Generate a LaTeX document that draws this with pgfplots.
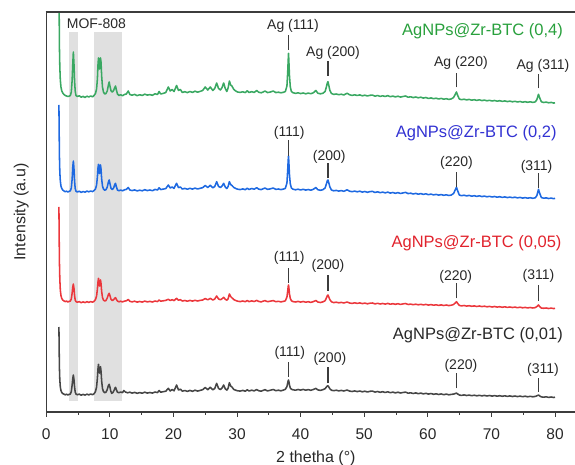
\documentclass[border=0pt]{standalone}
\usepackage{pgfplots}
\pgfplotsset{compat=1.18}
\usepackage{fontspec}
\setmainfont{Liberation Sans}

\definecolor{gline}{RGB}{58,168,98}
\definecolor{gtext}{RGB}{40,160,60}
\definecolor{bline}{RGB}{30,105,225}
\definecolor{btext}{RGB}{50,50,210}
\definecolor{rline}{RGB}{235,55,60}
\definecolor{rtext}{RGB}{225,35,45}
\definecolor{kline}{RGB}{70,70,70}
\definecolor{ktext}{RGB}{40,40,40}
\definecolor{band}{RGB}{224,224,224}
\definecolor{axgray}{RGB}{60,60,60}

\newcommand{\annfont}{\fontsize{14}{16}\selectfont}
\newcommand{\serfont}{\fontsize{16.5}{19}\selectfont}
\tikzset{
    ann/.style={draw=axgray, line width=1.1pt},
    lab/.style={inner sep=0pt, text=ktext, font=\annfont},
    ser/.style={anchor=east, inner sep=0pt, font=\serfont},
}

\begin{document}
\begin{tikzpicture}
\begin{axis}[
    at={(0,0)}, anchor=south west,
    scale only axis,
    width=528.8pt, height=400pt,
    xmin=0, xmax=83.14,
    ymin=0, ymax=400,
    axis x line=bottom, axis y line=left,
    axis line style={-, draw=axgray, line width=1.2pt},
    xtick={0,10,...,80},
    minor xtick={5,15,...,75},
    ytick=\empty,
    tick align=outside,
    major tick length=5pt, minor tick length=3pt,
    tick style={draw=axgray, line width=1pt},
    /pgf/number format/assume math mode=true,
    ticklabel style={font=\fontsize{15.5}{18}\selectfont, text=ktext},
    xticklabel style={yshift=-8pt},
    xlabel={2 thetha (°)},
    ylabel={Intensity (a.u)},
    label style={font=\fontsize{16}{19}\selectfont, text=ktext},
    xlabel style={at={(axis description cs:0.51,-0.115)}, anchor=center},
    ylabel style={at={(axis description cs:-0.047,0.5)}, anchor=center},
    every axis plot/.append style={no markers, line width=1.55pt, line join=round},
]
% shaded MOF-808 regions
\fill[band] (axis cs:3.6,11.3) rectangle (axis cs:4.98,380);
\fill[band] (axis cs:7.47,11.3) rectangle (axis cs:11.97,380);

% AgNPs@Zr-BTC (0,01)
\addplot[kline] coordinates {
(2.00,85) (2.04,62) (2.08,44) (2.14,32) (2.22,25) (2.32,21.5) (2.45,19.5) (2.6,18.5) (2.8,17.8) (3.0,17.2) (3.2,17.8) (3.4,17) (3.6,17.6) (3.8,18) (3.95,20.5) (4.08,27) (4.18,33.5) (4.27,37) (4.36,33) (4.46,25) (4.56,20) (4.68,18) (4.9,17.2) (5.2,17.9) (5.5,16.8) (5.8,17.6) (6.1,16.9) (6.4,17.8) (6.7,17.1) (7.0,18) (7.3,17.3) (7.55,18.4) (7.75,20.5) (7.92,25) (8.05,34) (8.14,43) (8.22,47.7) (8.3,42) (8.38,39) (8.46,41.5) (8.54,45.3) (8.62,41) (8.72,31) (8.85,23.5) (9.0,20.5) (9.2,19.3) (9.4,19.8) (9.6,22.5) (9.78,26.5) (9.9,27.7) (10.02,25) (10.15,21) (10.3,18.7) (10.5,19.5) (10.7,22) (10.82,24) (10.9,24.7) (11.02,22.5) (11.2,19.8) (11.45,19.3) (11.7,20) (12.0,19.3) (12.2,21.5) (12.45,20) (12.8,19.2) (13.15,19.8) (13.5,18.9) (13.9,19.6) (14.3,18.7) (14.7,19.4) (15.1,18.8) (15.5,19.8) (15.9,18.9) (16.3,19.5) (16.7,18.9) (17.1,20) (17.5,19.4) (17.75,21.5) (18.0,19.8) (18.4,20.3) (18.8,20.8) (19.2,23.7) (19.5,21) (19.8,22.5) (20.1,21.2) (20.5,27) (20.8,22) (21.1,22.8) (21.4,20.8) (21.8,21.5) (22.2,20.6) (22.6,21.6) (23.0,20.7) (23.4,21.8) (23.8,20.9) (24.2,21.6) (24.6,22.3) (25.0,24.5) (25.4,22.3) (25.8,24.8) (26.2,22.2) (26.5,23.5) (26.8,28.7) (27.1,23.5) (27.4,22.4) (27.65,24) (27.9,27) (28.15,23.2) (28.4,21.9) (28.6,23.8) (28.8,29.3) (29.0,26) (29.2,25) (29.5,22.5) (29.8,21.8) (30.1,21.2) (30.5,20.9) (30.9,21.6) (31.3,20.8) (31.6,22.2) (31.9,21) (32.3,21.8) (32.7,21.1) (33.1,22.4) (33.4,21.3) (33.8,20.8) (34.1,21.6) (34.4,22.3) (34.8,21.1) (35.2,21.7) (35.7,22.5) (36.1,21.3) (36.5,21.8) (36.9,21.2) (37.3,21.9) (37.6,22.7) (37.85,25.5) (37.97,29) (38.05,31.3) (38.1,32) (38.16,30.3) (38.25,27) (38.38,24) (38.55,22.8) (38.8,22.2) (39.2,21.8) (39.6,22.5) (40.0,21.9) (40.4,22.6) (40.8,21.8) (41.2,22.4) (41.6,21.7) (42.0,22.5) (42.4,23.6) (42.7,22.1) (43.1,21.6) (43.5,22.3) (43.85,23.3) (44.05,25) (44.2,26) (44.3,26.2) (44.42,25.2) (44.6,23.2) (44.85,21.8) (45.2,21.3) (45.6,21.8) (46.0,21.1) (46.4,21.6) (46.8,21) (47.3,22) (47.7,20.9) (48.1,20.5) (48.5,21.1) (48.9,20.4) (49.3,21) (49.7,20.2) (50.1,20.8) (50.5,20) (50.9,20.7) (51.3,20.9) (51.7,19.9) (52.1,20.5) (52.5,19.7) (52.9,20.3) (53.3,19.5) (53.7,20.2) (54.1,19.3) (54.5,19.9) (54.9,19.1) (55.3,19.8) (55.7,19) (56.1,19.5) (56.5,19.9) (56.9,18.8) (57.3,19.2) (57.7,18.5) (58.1,19.1) (58.5,18.3) (58.9,18.9) (59.3,18.1) (59.7,18.7) (60.1,17.9) (60.5,18.5) (60.9,17.7) (61.3,18.2) (61.7,17.5) (62.1,18.1) (62.5,17.3) (62.9,17.9) (63.3,17.2) (63.7,17.6) (64.05,17.9) (64.3,18.4) (64.5,18.9) (64.7,18) (64.95,17) (65.3,16.6) (65.7,17.1) (66.1,16.5) (66.5,16.9) (66.9,16.3) (67.3,16.8) (67.7,16.2) (68.1,16.7) (68.5,16.1) (68.9,16.6) (69.3,16) (69.7,16.5) (70.1,15.9) (70.5,16.4) (70.9,15.8) (71.3,16.3) (71.7,15.7) (72.1,16.2) (72.5,15.6) (72.9,16.1) (73.3,15.5) (73.7,16) (74.1,15.4) (74.5,15.9) (74.9,15.3) (75.3,15.8) (75.7,15.2) (76.1,15.7) (76.5,15.2) (76.9,15.6) (77.15,16.2) (77.4,17) (77.6,16) (77.85,15.1) (78.2,14.8) (78.6,15.2) (79.0,14.6) (79.4,15) (79.8,14.5) (80.0,14.8)
};

% AgNPs@Zr-BTC (0,05)
\addplot[rline] coordinates {
(2.00,205) (2.04,175) (2.08,150) (2.14,133) (2.22,122) (2.32,116.5) (2.45,113.5) (2.6,112) (2.8,111) (3.0,110.4) (3.2,110.9) (3.4,110) (3.6,110.6) (3.8,111) (3.95,113) (4.08,119) (4.18,125) (4.27,128) (4.36,124) (4.46,116.5) (4.56,112) (4.68,110.5) (4.9,109.8) (5.2,110.4) (5.5,109.3) (5.8,110.1) (6.1,109.4) (6.4,110.3) (6.7,109.6) (7.0,110.4) (7.3,109.8) (7.55,110.8) (7.75,112.5) (7.92,116) (8.05,123) (8.14,130) (8.22,133.7) (8.3,128) (8.38,126) (8.46,129) (8.54,132) (8.62,128.5) (8.72,120.5) (8.85,114.5) (9.0,112) (9.2,111) (9.4,111.5) (9.6,114) (9.78,117.5) (9.9,118.7) (10.02,116.5) (10.2,112.5) (10.4,111.5) (10.6,112.3) (10.78,113.8) (10.9,114.3) (11.02,112.8) (11.2,111) (11.45,110.2) (11.7,110.8) (12.0,110.1) (12.3,110.9) (12.6,111.2) (12.9,112.5) (13.15,110.7) (13.5,110.1) (13.9,110.8) (14.3,109.9) (14.7,110.5) (15.1,109.9) (15.5,110.9) (15.9,110.1) (16.3,110.6) (16.7,110) (17.1,111) (17.5,110.4) (17.75,112) (18.0,110.8) (18.4,111.2) (18.8,111.6) (19.2,112.7) (19.5,111.5) (19.8,112.3) (20.1,111.4) (20.5,113.7) (20.8,111.8) (21.1,112.3) (21.4,111) (21.8,111.5) (22.2,110.8) (22.6,111.6) (23.0,110.9) (23.4,111.7) (23.8,111) (24.2,111.6) (24.6,112) (25.0,113.5) (25.4,112.2) (25.8,113.6) (26.2,112) (26.5,113) (26.8,116) (27.1,113) (27.4,112.3) (27.65,113.2) (27.9,114.7) (28.15,112.8) (28.4,111.8) (28.6,113.2) (28.8,118) (29.0,115.5) (29.2,114.2) (29.5,112.4) (29.8,111.5) (30.1,110.8) (30.5,110.4) (30.9,111) (31.3,110.3) (31.6,111.5) (31.9,110.4) (32.3,111.1) (32.7,110.5) (33.1,111.6) (33.4,110.6) (33.8,110.1) (34.1,110.8) (34.4,111.4) (34.8,110.3) (35.2,110.8) (35.7,111.4) (36.1,110.3) (36.5,110.7) (36.9,110.1) (37.3,110.6) (37.6,111.2) (37.85,115) (37.97,121) (38.05,125.5) (38.1,127) (38.16,124) (38.25,118) (38.38,113.5) (38.55,111.2) (38.8,110.4) (39.2,110) (39.6,110.6) (40.0,109.9) (40.4,110.5) (40.8,109.8) (41.2,110.3) (41.6,109.6) (42.0,110.4) (42.4,111.5) (42.7,110) (43.1,109.5) (43.5,110.1) (43.85,111.3) (44.05,114) (44.2,116.3) (44.3,117) (44.42,115.2) (44.6,112.3) (44.85,110.2) (45.2,109.4) (45.6,109.8) (46.0,109.2) (46.4,109.6) (46.8,109) (47.3,110) (47.7,109) (48.1,108.6) (48.5,109.2) (48.9,108.6) (49.3,109.1) (49.7,108.4) (50.1,108.9) (50.5,108.2) (50.9,108.8) (51.3,109) (51.7,108.1) (52.1,108.7) (52.5,108) (52.9,108.5) (53.3,107.9) (53.7,108.6) (54.1,107.8) (54.5,108.3) (54.9,107.7) (55.3,108.3) (55.7,107.6) (56.1,108.1) (56.5,108.5) (56.9,107.5) (57.3,107.9) (57.7,107.3) (58.1,107.8) (58.5,107.2) (58.9,107.7) (59.3,107.1) (59.7,107.6) (60.1,106.9) (60.5,107.4) (60.9,106.8) (61.3,107.2) (61.7,106.6) (62.1,107.1) (62.5,106.5) (62.9,107) (63.3,106.4) (63.7,106.8) (64.05,107.5) (64.3,109) (64.5,110.3) (64.7,108.5) (64.95,106.6) (65.3,106.1) (65.7,106.5) (66.1,105.9) (66.5,106.3) (66.9,105.7) (67.3,106.1) (67.7,105.5) (68.1,106) (68.5,105.4) (68.9,105.8) (69.3,105.2) (69.7,105.6) (70.1,105) (70.5,105.5) (70.9,104.9) (71.3,105.3) (71.7,104.7) (72.1,105.2) (72.5,104.6) (72.9,105) (73.3,104.5) (73.7,104.9) (74.1,104.3) (74.5,104.8) (74.9,104.2) (75.3,104.6) (75.7,104.1) (76.1,104.5) (76.5,104) (76.9,104.4) (77.15,105.5) (77.4,107) (77.6,105.3) (77.85,104) (78.2,103.7) (78.6,104) (79.0,103.5) (79.4,103.9) (79.8,103.4) (80.0,103.7)
};

% AgNPs@Zr-BTC (0,2)
\addplot[bline] coordinates {
(2.00,307) (2.04,280) (2.08,256) (2.14,240) (2.22,231) (2.32,226) (2.45,223.5) (2.6,222) (2.8,221) (3.0,220.3) (3.2,220.8) (3.4,220) (3.6,220.6) (3.8,221.2) (3.95,224) (4.08,233) (4.18,245) (4.27,251) (4.36,244) (4.46,231) (4.56,223.5) (4.68,220.8) (4.9,220) (5.2,220.8) (5.5,219.6) (5.8,220.5) (6.1,219.8) (6.4,220.9) (6.7,220.2) (7.0,221) (7.3,220.4) (7.55,221.6) (7.75,223) (7.92,227) (8.05,235) (8.14,244) (8.22,247.7) (8.3,241) (8.38,238.5) (8.46,242) (8.54,247) (8.62,243) (8.72,233) (8.85,226) (9.0,223) (9.2,221.8) (9.4,222.3) (9.6,225) (9.78,230) (9.9,232) (10.02,228.5) (10.2,223.5) (10.4,222.5) (10.6,224) (10.78,227.5) (10.9,228.7) (11.02,225.5) (11.2,222) (11.45,221.2) (11.7,222) (12.0,221.2) (12.3,222.2) (12.6,222.6) (12.9,224.5) (13.15,222) (13.5,221.4) (13.9,222.1) (14.3,221.1) (14.7,221.8) (15.1,221.2) (15.5,222.3) (15.9,221.4) (16.3,222) (16.7,221.3) (17.1,222.6) (17.5,222) (17.75,224.2) (18.0,222.4) (18.4,222.9) (18.8,223.4) (19.2,227) (19.5,224) (19.8,225) (20.1,223.6) (20.5,228.7) (20.8,224.4) (21.1,225) (21.4,223) (21.8,223.6) (22.2,222.8) (22.6,223.7) (23.0,222.9) (23.4,223.9) (23.8,223) (24.2,223.7) (24.6,224.3) (25.0,226.5) (25.4,224.5) (25.8,226.7) (26.2,224.2) (26.5,225.5) (26.8,230.3) (27.1,225.5) (27.4,224.5) (27.65,226) (27.9,228.7) (28.15,225) (28.4,223.5) (28.6,225.5) (28.8,230.3) (29.0,227.5) (29.2,226.5) (29.5,224.5) (29.8,223.5) (30.1,222.8) (30.5,222.4) (30.9,223.1) (31.3,222.3) (31.6,223.8) (31.9,222.5) (32.3,223.5) (32.7,222.8) (33.1,224.3) (33.4,222.9) (33.8,222.4) (34.1,223.2) (34.4,224) (34.8,222.6) (35.2,223.1) (35.7,224) (36.1,222.6) (36.5,223) (36.9,222.4) (37.3,222.9) (37.6,223.6) (37.85,229) (37.97,242) (38.05,252) (38.1,256) (38.16,249) (38.25,237) (38.38,228) (38.55,224) (38.8,222.8) (39.2,222.2) (39.6,222.8) (40.0,222) (40.4,222.7) (40.8,221.9) (41.2,222.5) (41.6,221.8) (42.0,222.7) (42.4,224.5) (42.7,222.3) (43.1,221.7) (43.5,222.3) (43.85,224) (44.05,228) (44.2,231.3) (44.3,232) (44.42,229.5) (44.6,225) (44.85,222) (45.2,221.2) (45.6,221.6) (46.0,220.9) (46.4,221.4) (46.8,220.7) (47.3,222.2) (47.7,220.8) (48.1,220.3) (48.5,220.9) (48.9,220.2) (49.3,220.8) (49.7,219.9) (50.1,220.5) (50.5,219.7) (50.9,220.4) (51.3,220.6) (51.7,219.5) (52.1,220.2) (52.5,219.3) (52.9,219.9) (53.3,219.1) (53.7,219.9) (54.1,218.9) (54.5,219.5) (54.9,218.7) (55.3,219.4) (55.7,218.5) (56.1,219.1) (56.5,219.6) (56.9,218.4) (57.3,218.8) (57.7,218) (58.1,218.6) (58.5,217.8) (58.9,218.4) (59.3,217.6) (59.7,218.2) (60.1,217.3) (60.5,217.9) (60.9,217.1) (61.3,217.6) (61.7,216.9) (62.1,217.4) (62.5,216.7) (62.9,217.2) (63.3,216.5) (63.7,217) (64.05,218.5) (64.3,222) (64.5,224.7) (64.7,221) (64.95,217) (65.3,216.3) (65.7,216.8) (66.1,216.1) (66.5,216.6) (66.9,215.8) (67.3,216.3) (67.7,215.6) (68.1,216.2) (68.5,215.4) (68.9,215.9) (69.3,215.2) (69.7,215.7) (70.1,215) (70.5,215.5) (70.9,214.8) (71.3,215.3) (71.7,214.6) (72.1,215.1) (72.5,214.4) (72.9,214.9) (73.3,214.3) (73.7,214.8) (74.1,214.1) (74.5,214.6) (74.9,213.9) (75.3,214.4) (75.7,213.8) (76.1,214.3) (76.5,213.7) (76.9,214.2) (77.15,216.5) (77.4,222.7) (77.6,218.5) (77.85,214.5) (78.2,213.8) (78.6,214.1) (79.0,213.5) (79.4,213.9) (79.8,213.3) (80.0,213.7)
};

% AgNPs@Zr-BTC (0,4)
\addplot[gline] coordinates {
(2.00,470) (2.04,400) (2.08,365) (2.14,345) (2.22,332) (2.32,325) (2.45,321) (2.6,319) (2.8,317.5) (3.0,316.5) (3.2,316) (3.4,315.5) (3.6,315.8) (3.8,316.5) (3.95,320) (4.08,332) (4.18,348) (4.27,360) (4.36,349) (4.46,331) (4.56,321) (4.68,316.5) (4.9,315.5) (5.2,316.2) (5.5,314.8) (5.8,315.6) (6.1,314.5) (6.4,315.8) (6.7,315) (7.0,316) (7.3,315.2) (7.55,316.8) (7.75,318.5) (7.92,323) (8.05,333) (8.14,347) (8.22,354) (8.3,346) (8.38,343) (8.46,348) (8.54,354) (8.62,350) (8.72,336) (8.85,325) (9.0,320) (9.2,318) (9.4,318.5) (9.6,321) (9.78,327) (9.9,330) (10.02,326) (10.2,321) (10.4,320) (10.6,321.5) (10.78,324.5) (10.9,326) (11.02,322.5) (11.2,318) (11.45,316.5) (11.7,317.3) (12.0,316.2) (12.3,317.5) (12.6,318) (12.9,321) (13.15,317.5) (13.5,316.8) (13.9,317.6) (14.3,316.4) (14.7,317.2) (15.1,316.6) (15.5,317.8) (15.9,316.9) (16.3,317.4) (16.7,316.7) (17.1,318.2) (17.5,317.5) (17.75,320.5) (18.0,318) (18.4,318.6) (18.8,319.5) (19.2,325) (19.5,321) (19.8,322.5) (20.1,320.5) (20.5,326.5) (20.8,321.5) (21.1,322.5) (21.4,319.5) (21.8,320.3) (22.2,319.4) (22.6,320.5) (23.0,319.6) (23.4,320.8) (23.8,319.8) (24.2,320.6) (24.6,321.5) (25.0,325) (25.4,322) (25.8,325) (26.2,321.5) (26.5,323.5) (26.8,329) (27.1,323.5) (27.4,322) (27.65,324.5) (27.9,329) (28.15,323.5) (28.4,320.5) (28.6,324) (28.8,331) (29.0,327) (29.2,326) (29.5,322.5) (29.8,321) (30.1,320) (30.5,319.6) (30.9,320.2) (31.3,319.4) (31.6,321.2) (31.9,319.5) (32.3,320.3) (32.7,319.6) (33.1,321.5) (33.4,319.8) (33.8,319.2) (34.1,320) (34.4,321) (34.8,319.4) (35.2,319.9) (35.7,321) (36.1,319.4) (36.5,319.8) (36.9,319.2) (37.3,319.7) (37.6,320.5) (37.85,326) (37.97,340) (38.05,352) (38.1,358.7) (38.16,350) (38.25,336) (38.38,325) (38.55,320.5) (38.8,319.3) (39.2,318.6) (39.6,319.2) (40.0,318.4) (40.4,319) (40.8,318.2) (41.2,318.9) (41.6,318.3) (42.0,319.2) (42.4,321.5) (42.7,318.8) (43.1,318.2) (43.5,318.7) (43.85,320.5) (44.05,325) (44.2,329) (44.3,330.3) (44.42,327) (44.6,321.5) (44.85,318.5) (45.2,317.6) (45.6,318) (46.0,317.3) (46.4,317.8) (46.8,317) (47.3,318.8) (47.7,317.2) (48.1,316.6) (48.5,317.2) (48.9,316.5) (49.3,317.1) (49.7,316.2) (50.1,316.8) (50.5,316) (50.9,316.7) (51.3,316.9) (51.7,315.8) (52.1,316.5) (52.5,315.6) (52.9,316.2) (53.3,315.5) (53.7,316.4) (54.1,315.3) (54.5,315.9) (54.9,315.1) (55.3,315.8) (55.7,314.9) (56.1,315.5) (56.5,316) (56.9,314.8) (57.3,315.2) (57.7,314.4) (58.1,315) (58.5,314.2) (58.9,314.8) (59.3,313.9) (59.7,314.5) (60.1,313.5) (60.5,314.1) (60.9,313.3) (61.3,313.8) (61.7,313) (62.1,313.6) (62.5,312.8) (62.9,313.3) (63.3,312.6) (63.7,313.1) (64.05,314.5) (64.3,317.5) (64.5,320) (64.7,316.5) (64.95,313) (65.3,312.3) (65.7,312.8) (66.1,312.1) (66.5,312.6) (66.9,311.8) (67.3,312.3) (67.7,311.6) (68.1,312.2) (68.5,311.4) (68.9,311.9) (69.3,311.2) (69.7,311.7) (70.1,311) (70.5,311.5) (70.9,310.8) (71.3,311.3) (71.7,310.6) (72.1,311.1) (72.5,310.4) (72.9,310.9) (73.3,310.2) (73.7,310.7) (74.1,310) (74.5,310.5) (74.9,309.8) (75.3,310.3) (75.7,309.7) (76.1,310.2) (76.5,309.6) (76.9,310.1) (77.15,312.5) (77.4,317.7) (77.6,314) (77.85,310.2) (78.2,309.5) (78.6,309.9) (79.0,309.2) (79.4,309.6) (79.8,308.9) (80.0,309.2)
};

% reflection markers and labels
\draw[ann] (axis cs:38.1,362) -- (axis cs:38.1,377);
\draw[ann] (axis cs:44.3,336) -- (axis cs:44.3,351.3);
\draw[ann] (axis cs:64.5,324.7) -- (axis cs:64.5,339.3);
\draw[ann] (axis cs:77.4,323.7) -- (axis cs:77.4,338);
\node[lab] at (axis cs:38.8,386.3) {Ag (111)};
\node[lab] at (axis cs:45.1,359.3) {Ag (200)};
\node[lab] at (axis cs:65.2,348.7) {Ag (220)};
\node[lab] at (axis cs:78.1,346) {Ag (311)};

\draw[ann] (axis cs:38.1,256) -- (axis cs:38.1,272);
\draw[ann] (axis cs:44.3,233.7) -- (axis cs:44.3,249.3);
\draw[ann] (axis cs:64.5,225.3) -- (axis cs:64.5,240.3);
\draw[ann] (axis cs:77.4,223.7) -- (axis cs:77.4,238.7);
\node[lab] at (axis cs:38.2,278.7) {(111)};
\node[lab] at (axis cs:44.5,255.3) {(200)};
\node[lab] at (axis cs:64.5,248.7) {(220)};
\node[lab] at (axis cs:77.1,245.3) {(311)};

\draw[ann] (axis cs:38.1,129.3) -- (axis cs:38.1,144.3);
\draw[ann] (axis cs:44.3,121) -- (axis cs:44.3,137);
\draw[ann] (axis cs:64.5,113.7) -- (axis cs:64.5,128.7);
\draw[ann] (axis cs:77.4,111.3) -- (axis cs:77.4,127);
\node[lab] at (axis cs:38.2,153.7) {(111)};
\node[lab] at (axis cs:44.3,146) {(200)};
\node[lab] at (axis cs:64.4,135.3) {(220)};
\node[lab] at (axis cs:77.4,136) {(311)};

\draw[ann] (axis cs:38.1,35.3) -- (axis cs:38.1,50.3);
\draw[ann] (axis cs:44.3,28.7) -- (axis cs:44.3,45);
\draw[ann] (axis cs:64.5,23.7) -- (axis cs:64.5,39);
\draw[ann] (axis cs:77.4,20.3) -- (axis cs:77.4,34);
\node[lab] at (axis cs:38.3,59.3) {(111)};
\node[lab] at (axis cs:44.6,53) {(200)};
\node[lab] at (axis cs:65.2,46) {(220)};
\node[lab] at (axis cs:78.1,42) {(311)};

% series names
\node[ser, text=gtext] at (axis cs:81.26,380.3) {AgNPs@Zr-BTC (0,4)};
\node[ser, text=btext] at (axis cs:80.27,278.7) {AgNPs@Zr-BTC (0,2)};
\node[ser, text=rtext] at (axis cs:81.05,168.7) {AgNPs@Zr-BTC (0,05)};
\node[ser, text=ktext] at (axis cs:81.26,77) {AgNPs@Zr-BTC (0,01)};
\node[anchor=west, inner sep=0pt, text=ktext, font=\annfont] at (axis cs:3.22,388) {MOF-808};
\end{axis}
\draw[draw=axgray, line width=1.2pt] (-0.6pt,400pt) -- (528.8pt,400pt);
\pgfresetboundingbox
\useasboundingbox (-46.2pt,-53pt) rectangle (528.8pt,412pt);
\end{tikzpicture}
\end{document}
